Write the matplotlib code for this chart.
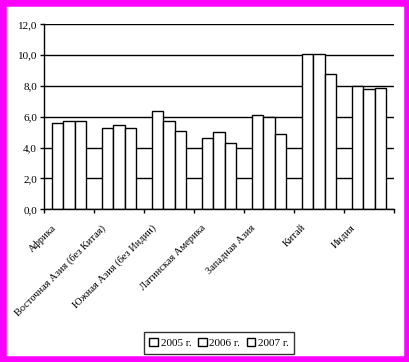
import matplotlib
matplotlib.use("Agg")
import matplotlib.pyplot as plt
import numpy as np
from matplotlib.ticker import FuncFormatter
from matplotlib.patches import Rectangle
import matplotlib.transforms as mtransforms

categories = ["Африка", "Восточная Азия (без Китая)", "Южная Азия (без Индии)",
              "Латинская Америка", "Западная Азия", "Китай", "Индия"]
series_names = ["2005 г.", "2006 г.", "2007 г."]
v2005 = [5.6, 5.3, 6.4, 4.6, 6.1, 10.1, 8.0]
v2006 = [5.7, 5.5, 5.7, 5.0, 6.0, 10.1, 7.8]
v2007 = [5.7, 5.3, 5.1, 4.3, 4.9, 8.8, 7.9]
yticks = [0, 2, 4, 6, 8, 10, 12]

plt.rcParams['font.family'] = ['Liberation Serif', 'DejaVu Serif']

fig = plt.figure(figsize=(4.10, 3.62), dpi=100)
ax = fig.add_axes([44/410, (362-209.3)/362, (394-44)/410, (209.3-24.3)/362])

x = np.arange(len(categories))
w = 0.23
for i, vals in enumerate([v2005, v2006, v2007]):
    ax.bar(x + (i-1)*w, vals, width=w, facecolor='white', edgecolor='black',
           linewidth=1.0, label=series_names[i], zorder=3)

ax.set_xlim(-0.5, len(categories)-0.5)
ax.set_ylim(0, 12)
ax.set_yticks(yticks)
ax.yaxis.set_major_formatter(FuncFormatter(lambda v, p: f"{v:.1f}".replace('.', ',')))
ax.yaxis.grid(True, color='black', linewidth=1.0, zorder=1)
ax.set_axisbelow(True)
for s in ['top', 'right']:
    ax.spines[s].set_visible(False)
ax.spines['left'].set_linewidth(1.0)
ax.spines['bottom'].set_linewidth(1.0)
ax.spines['left'].set_zorder(4)
ax.spines['bottom'].set_zorder(4)
ax.tick_params(axis='y', direction='out', length=3, width=1, labelsize=8, pad=2)

ax.set_xticks(x)
ax.set_xticks(np.arange(-0.5, len(categories)), minor=True)
ax.tick_params(axis='x', which='major', length=0, labelsize=7.5)
ax.tick_params(axis='x', which='minor', length=3, width=1, direction='out')
offset = mtransforms.ScaledTranslation(-18/100, -9/100, fig.dpi_scale_trans)
ax.set_xticklabels(categories, rotation=45, ha='right', va='top', rotation_mode='anchor')
for lab in ax.get_xticklabels():
    lab.set_transform(lab.get_transform() + offset)

leg = fig.legend(loc='center', bbox_to_anchor=(219/410, 19/362), ncol=3,
                 frameon=True, fancybox=False, edgecolor='black', fontsize=8,
                 handlelength=0.8, handleheight=0.8, handletextpad=0.2,
                 columnspacing=0.6, borderpad=0.5)
leg.get_frame().set_linewidth(1.0)

fig.patches.append(Rectangle((0, 0), 1, 1, transform=fig.transFigure,
                             fill=False, edgecolor='#FF00FF', linewidth=9, zorder=10))

fig.savefig("out.png", dpi=100, facecolor='white')
